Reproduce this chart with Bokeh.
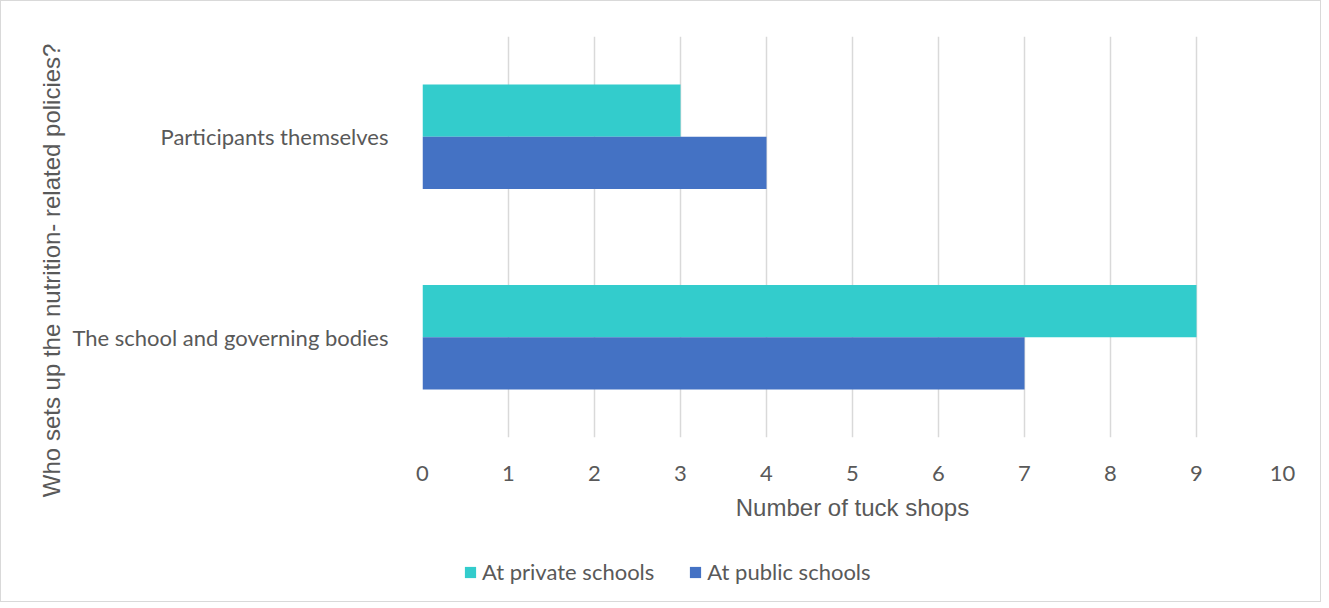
from bokeh.plotting import figure
from bokeh.layouts import column
from bokeh.models import Range1d, FactorRange, FixedTicker, Legend, LegendItem, Title
from bokeh.transform import dodge
from bokeh.models import ColumnDataSource
from bokeh.embed import file_html
from bokeh.resources import INLINE

categories = ["The school and governing bodies", "Participants themselves"]
private_vals = [9, 3]
public_vals = [7, 4]
series_names = ["At private schools", "At public schools"]
x_ticks = [0, 1, 2, 3, 4, 5, 6, 7, 8, 9, 10]
x_title = "Number of tuck shops"
y_title = "Who sets up the nutrition- related policies?"

TEAL = "#33CCCC"
BLUE = "#4472C4"
TXT = "#595959"
GRID = "#D9D9D9"

src = ColumnDataSource(dict(cat=categories, private=private_vals, public=public_vals))

p = figure(width=1319, height=540, output_backend="svg", toolbar_location=None,
           y_range=FactorRange(factors=categories), x_range=Range1d(0, 10),
           min_border_left=421, min_border_right=38, min_border_top=35, min_border_bottom=104)

p.hbar(y=dodge("cat", 0.13, range=p.y_range), right="private", left=0, height=0.26,
       source=src, color=TEAL, line_color=None)
p.hbar(y=dodge("cat", -0.13, range=p.y_range), right="public", left=0, height=0.26,
       source=src, color=BLUE, line_color=None)

p.outline_line_color = None
p.ygrid.grid_line_color = None
p.xgrid.grid_line_color = GRID
p.xgrid.grid_line_width = 1.5
p.xaxis.ticker = FixedTicker(ticks=x_ticks)

for ax in (p.xaxis, p.yaxis):
    ax.axis_line_color = None
    ax.major_tick_line_color = None
    ax.minor_tick_line_color = None
    ax.major_label_text_color = TXT
    ax.major_label_text_font = "Lato"
    ax.major_label_text_font_size = "22px"
    ax.axis_label_text_color = TXT
    ax.axis_label_text_font = "Liberation Sans"
    ax.axis_label_text_font_size = "24px"
    ax.axis_label_text_font_style = "normal"

p.xaxis.axis_label = x_title
p.xaxis.major_label_standoff = 22
p.xaxis.axis_label_standoff = 10
p.yaxis.major_label_standoff = 28

# trailing no-break spaces move the centred title down, as in the reference
p.add_layout(Title(text=y_title + "\u00a0" * 10, align="center", standoff=10,
                   text_font="Liberation Sans", text_font_size="24px",
                   text_font_style="normal", text_color=TXT), "left")

# legend strip below the chart
lf = figure(width=1319, height=60, output_backend="svg", toolbar_location=None,
            x_range=Range1d(0, 1), y_range=Range1d(0, 1),
            min_border_left=0, min_border_right=0, min_border_top=0, min_border_bottom=0)
lf.axis.visible = False
lf.grid.visible = False
lf.outline_line_color = None
d1 = lf.hbar(y=[-5], left=[-5], right=[-4], height=1, color=TEAL, line_color=None)
d2 = lf.hbar(y=[-5], left=[-5], right=[-4], height=1, color=BLUE, line_color=None)

legend = Legend(items=[LegendItem(label=series_names[0], renderers=[d1]),
                       LegendItem(label=series_names[1], renderers=[d2])],
                orientation="horizontal", location=(41, 16),
                label_text_font="Lato", label_text_font_size="22px", label_text_color=TXT,
                glyph_width=14, glyph_height=14, label_standoff=5, spacing=34,
                background_fill_alpha=0, border_line_color=None, padding=4, margin=0)
lf.add_layout(legend, "center")

layout = column(p, lf, spacing=0,
                styles={"border": "1px solid #D9D9D9"})

open("out.html", "w").write(file_html(layout, INLINE))
